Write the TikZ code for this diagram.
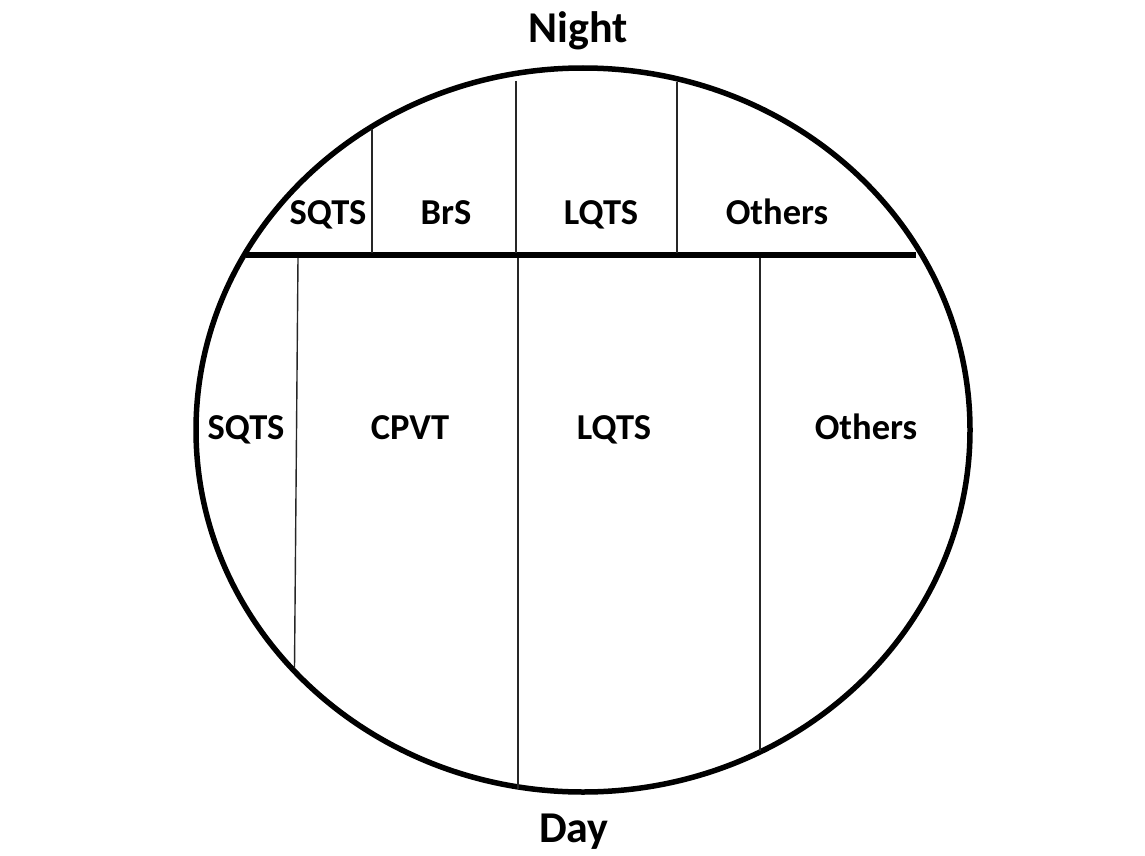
\documentclass[tikz,border=0pt]{standalone}
\usepackage{fontspec}
\setmainfont{Carlito}
\begin{document}
\begin{tikzpicture}[x=1pt,y=-1pt,
  lbl/.style={font=\fontsize{36.5}{40}\selectfont\bfseries, anchor=base, inner sep=0pt},
  ttl/.style={font=\fontsize{44}{48}\selectfont\bfseries, anchor=base, inner sep=0pt},
  rim/.style={line width=5.5pt},
  divider/.style={line width=6pt},
  thin/.style={line width=1.4pt, black!85}]
\useasboundingbox (0,0) rectangle (1145,856);
% circle
\draw[rim] (583,430) ellipse [x radius=387pt, y radius=362pt];
% horizontal divider
\coordinate (hL) at (246,255);
\coordinate (hR) at (916,255);
\draw[divider] (hL) -- (hR);
% top verticals
\coordinate (t1a) at (372,129); \coordinate (t1b) at (372,253);
\coordinate (t2a) at (516,81);  \coordinate (t2b) at (516,253);
\coordinate (t3a) at (677,82);  \coordinate (t3b) at (677,253);
\draw[thin] (t1a) -- (t1b);
\draw[thin] (t2a) -- (t2b);
\draw[thin] (t3a) -- (t3b);
% bottom verticals
\coordinate (b1a) at (298,258); \coordinate (b1b) at (294.5,668);
\coordinate (b2a) at (518,258); \coordinate (b2b) at (518,789);
\coordinate (b3a) at (760,258); \coordinate (b3b) at (760,751);
\draw[thin] (b1a) -- (b1b);
\draw[thin] (b2a) -- (b2b);
\draw[thin] (b3a) -- (b3b);
% titles
\node[ttl] (night) at (578,43) {Night};
\node[ttl] (day) at (574,842) {Day};
% top labels
\node[lbl] (nsqts) at (328,224) {SQTS};
\node[lbl] (nbrs) at (446,224) {BrS};
\node[lbl] (nlqts) at (601,224) {LQTS};
\node[lbl] (noth) at (777,224) {Others};
% bottom labels
\node[lbl] (dsqts) at (246,439) {SQTS};
\node[lbl] (dcpvt) at (410,439) {CPVT};
\node[lbl] (dlqts) at (614,439) {LQTS};
\node[lbl] (doth) at (866,439) {Others};
\end{tikzpicture}
\end{document}
